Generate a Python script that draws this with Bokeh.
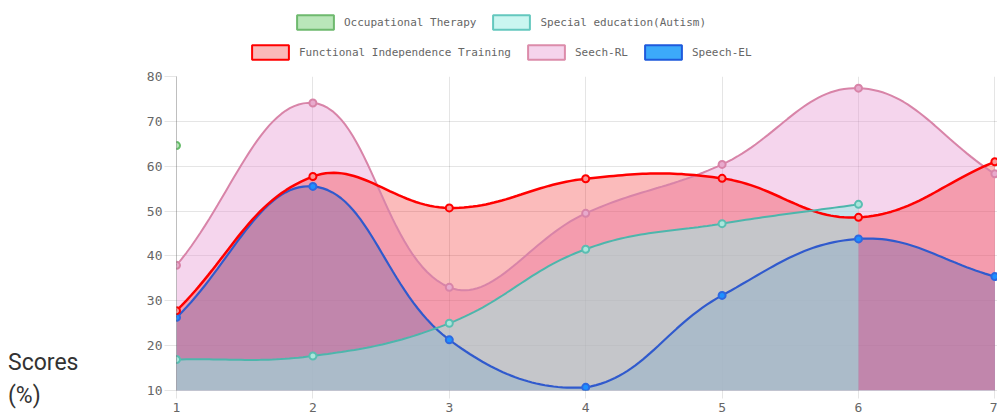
import math
from bokeh.plotting import figure
from bokeh.layouts import column, row
from bokeh.models import Range1d, FixedTicker, Legend, LegendItem, ColumnDataSource, Div
from bokeh.embed import file_html
from bokeh.resources import INLINE

# ---------------- data ----------------
sessions = [1, 2, 3, 4, 5, 6, 7]
occupational_therapy = [64.6, None, None, None, None, None, None]
special_education = [16.9, 17.7, 25.0, 41.5, 47.2, 51.5, None]
functional_independence = [27.8, 57.7, 50.7, 57.2, 57.3, 48.6, 61.0]
seech_rl = [37.9, 74.1, 33.0, 49.5, 60.4, 77.4, 58.3]
speech_el = [26.3, 55.5, 21.3, 10.7, 31.2, 43.8, 35.4]
series_labels = ["Occupational Therapy", "Special education(Autism)",
                 "Functional Independence Training", "Seech-RL", "Speech-EL"]
y_ticks = [10, 20, 30, 40, 50, 60, 70, 80]
axis_title = ["Scores", "(%)"]

# ---------------- layout (page px) ----------------
PAGE_W, PAGE_H = 997, 418
TOP_H = 64                  # legend strip height
LEFT_W = 130                # strip holding the "Scores (%)" caption
FRAME_L, FRAME_T, FRAME_B = 176, 76, 390
PX_PER_X = 136.4
X0, Y0, Y1 = 1, 10, 80

MAIN_W = PAGE_W - LEFT_W
MAIN_H = PAGE_H - TOP_H
X1 = X0 + (PAGE_W - FRAME_L) / PX_PER_X
PX_PER_Y = (FRAME_B - FRAME_T) / (Y1 - Y0)


def spline(xs, ys, tension=0.4, n=32):
    """Chart.js style cubic interpolation computed in pixel space."""
    pts = [(x * PX_PER_X, y * PX_PER_Y) for x, y in zip(xs, ys)]
    xmin, xmax = min(sessions) * PX_PER_X, max(sessions) * PX_PER_X
    ymin, ymax = Y0 * PX_PER_Y, Y1 * PX_PER_Y

    def clamp(p):
        return (min(max(p[0], xmin), xmax), min(max(p[1], ymin), ymax))

    m = len(pts)
    cps = []
    for i in range(m):
        cur = pts[i]
        prev = pts[i - 1] if i > 0 else cur
        nxt = pts[i + 1] if i < m - 1 else cur
        d01 = math.dist(prev, cur)
        d12 = math.dist(cur, nxt)
        tot = d01 + d12
        s01 = d01 / tot if tot else 0
        s12 = d12 / tot if tot else 0
        fa, fb = tension * s01, tension * s12
        cprev = (cur[0] - fa * (nxt[0] - prev[0]), cur[1] - fa * (nxt[1] - prev[1]))
        cnext = (cur[0] + fb * (nxt[0] - prev[0]), cur[1] + fb * (nxt[1] - prev[1]))
        cps.append((clamp(cprev), clamp(cnext)))
    ox, oy = [pts[0][0]], [pts[0][1]]
    for i in range(m - 1):
        p0, p1, p2, p3 = pts[i], cps[i][1], cps[i + 1][0], pts[i + 1]
        for k in range(1, n + 1):
            t = k / n
            a, b, c, d = (1 - t) ** 3, 3 * (1 - t) ** 2 * t, 3 * (1 - t) * t ** 2, t ** 3
            ox.append(a * p0[0] + b * p1[0] + c * p2[0] + d * p3[0])
            oy.append(a * p0[1] + b * p1[1] + c * p2[1] + d * p3[1])
    return [v / PX_PER_X for v in ox], [v / PX_PER_Y for v in oy]


# ---------------- main chart ----------------
p = figure(width=MAIN_W, height=MAIN_H, output_backend="svg", toolbar_location=None,
           x_range=Range1d(X0, X1), y_range=Range1d(Y0, Y1))
p.title_location = None
p.min_border = 0
p.min_border_left = FRAME_L - LEFT_W
p.min_border_right = 0
p.min_border_top = FRAME_T - TOP_H
p.min_border_bottom = PAGE_H - FRAME_B
p.outline_line_color = None

for g in (p.xgrid, p.ygrid):
    g.grid_line_color = "#000000"
    g.grid_line_alpha = 0.1
p.xgrid.ticker = FixedTicker(ticks=sessions)
p.ygrid.ticker = FixedTicker(ticks=y_ticks)

ya = p.yaxis[0]
ya.ticker = FixedTicker(ticks=y_ticks)
ya.axis_line_color = "#000000"
ya.axis_line_alpha = 0.25
ya.major_tick_line_color = "#000000"
ya.major_tick_line_alpha = 0.1
ya.major_tick_out = 12
ya.major_tick_in = 0
ya.minor_tick_line_color = None
ya.major_label_standoff = 2
ya.major_label_text_font = "DejaVu Sans Mono"
ya.major_label_text_font_size = "13px"
ya.major_label_text_color = "#666666"

xa = p.xaxis[0]
xa.ticker = FixedTicker(ticks=sessions)
xa.axis_line_color = "#000000"
xa.axis_line_alpha = 0.1
xa.major_tick_line_color = "#000000"
xa.major_tick_line_alpha = 0.1
xa.major_tick_out = 8
xa.major_tick_in = 0
xa.minor_tick_line_color = None
xa.major_label_standoff = 4
xa.major_label_text_font = "DejaVu Sans Mono"
xa.major_label_text_font_size = "13px"
xa.major_label_text_color = "#666666"

styles = {
    "Speech-EL": dict(data=speech_el, fill=(60, 170, 250), fa=0.6, line=(48, 90, 205), lw=2.2,
                      pfill=(30, 144, 255), pline=(45, 105, 225),
                      lfill=(60, 170, 250), lline=(30, 90, 220)),
    "Seech-RL": dict(data=seech_rl, fill=(230, 150, 210), fa=0.4, line=(216, 132, 168), lw=2,
                     pfill=(232, 170, 205), pline=(216, 132, 168),
                     lfill=(245, 212, 236), lline=(220, 140, 170)),
    "Functional Independence Training": dict(data=functional_independence, fill=(240, 10, 10), fa=0.28,
                                             line=(255, 0, 0), lw=2.5, pfill=(250, 150, 150),
                                             pline=(255, 0, 0), lfill=(250, 185, 185), lline=(255, 0, 0)),
    "Special education(Autism)": dict(data=special_education, fill=(150, 240, 230), fa=0.5,
                                      line=(77, 182, 172), lw=2, pfill=(170, 230, 220),
                                      pline=(90, 190, 178), lfill=(202, 246, 240), lline=(100, 200, 190)),
    "Occupational Therapy": dict(data=occupational_therapy, fill=(120, 200, 120), fa=0.4,
                                 line=(102, 187, 106), lw=2, pfill=(185, 230, 185),
                                 pline=(102, 187, 106), lfill=(185, 230, 185), lline=(110, 185, 110)),
}
draw_order = ["Speech-EL", "Seech-RL", "Functional Independence Training",
              "Special education(Autism)", "Occupational Therapy"]


def valid_points(name):
    return [(x, y) for x, y in zip(sessions, styles[name]["data"]) if y is not None]


# fills of all datasets first (Chart.js filler), then lines and points
for name in draw_order:
    s = styles[name]
    v = valid_points(name)
    if len(v) < 2:
        continue
    cx, cy = spline([a for a, _ in v], [b for _, b in v])
    p.varea(x=cx, y1=[Y0] * len(cx), y2=cy, fill_color=s["fill"], fill_alpha=s["fa"])

for name in draw_order:
    s = styles[name]
    v = valid_points(name)
    if len(v) >= 2:
        cx, cy = spline([a for a, _ in v], [b for _, b in v])
        p.line(cx, cy, line_color=s["line"], line_width=s["lw"])
    p.scatter([a for a, _ in v], [b for _, b in v], size=7, marker="circle",
              fill_color=s["pfill"], line_color=s["pline"], line_width=2)

# ---------------- legend strip ----------------
top = figure(width=PAGE_W, height=TOP_H, output_backend="svg", toolbar_location=None,
             x_range=Range1d(0, 1), y_range=Range1d(0, 1),
             x_axis_location=None, y_axis_location=None)
top.min_border = 0
top.outline_line_color = None
top.grid.visible = False
top.title_location = None

leg_renderers = {}
for name in series_labels:
    s = styles[name]
    # a single swatch quad lying outside the strip's visible range: only its legend glyph shows
    src = ColumnDataSource(data=dict(l=[5], r=[6], t=[6], b=[5]))
    leg_renderers[name] = top.quad(left="l", right="r", top="t", bottom="b", source=src,
                                   fill_color=s["lfill"], line_color=s["lline"], line_width=2)


def make_legend(names, loc):
    return Legend(items=[LegendItem(label=n, renderers=[leg_renderers[n]]) for n in names],
                  location=loc, orientation="horizontal",
                  glyph_width=46, glyph_height=18, label_height=18, label_width=10,
                  label_standoff=6, spacing=12, padding=0, margin=0,
                  border_line_color=None, background_fill_alpha=0,
                  label_text_font="DejaVu Sans Mono", label_text_font_size="11px",
                  label_text_color="#666666")


# (left, bottom) offsets inside the strip
top.add_layout(make_legend(series_labels[:2], (292, TOP_H - 31)))
top.add_layout(make_legend(series_labels[2:], (247, TOP_H - 61)))

# ---------------- caption strip ----------------
caption = Div(
    text=('<div style="font-family: Roboto, sans-serif; font-size: 23px; color: #333333; '
          'line-height: 33px; padding: 282px 0 0 8px; margin: 0;">'
          + "<br>".join(axis_title) + "</div>"),
    width=LEFT_W, height=MAIN_H, margin=(0, 0, 0, 0))

layout = column(top, row(caption, p, spacing=0), spacing=0)
open("out.html", "w").write(file_html(layout, INLINE))
